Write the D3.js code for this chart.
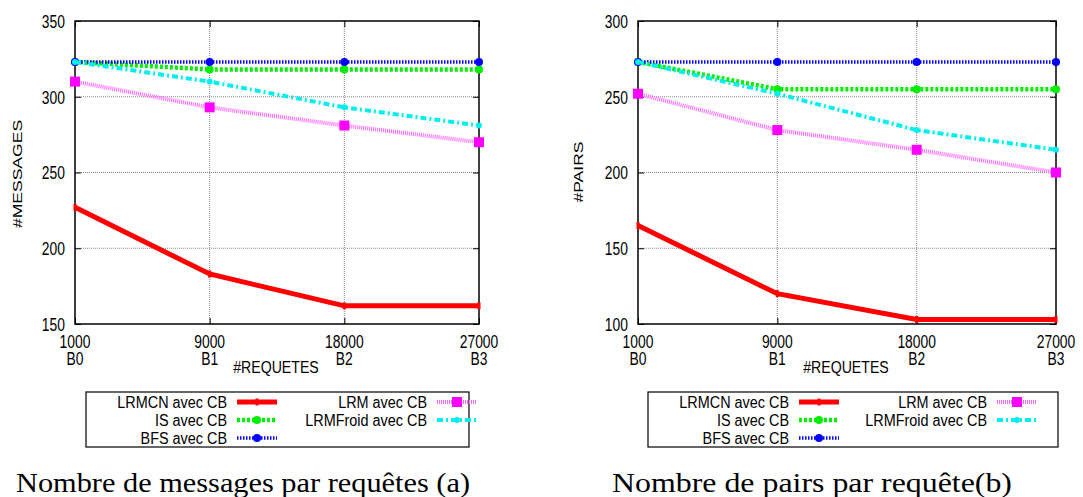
<!DOCTYPE html>
<html>
<head>
<meta charset="utf-8">
<script src="https://cdn.jsdelivr.net/npm/d3@7"></script>
<style>
  body { margin: 0; background: #fff; }
  svg { display: block; }
</style>
</head>
<body>
<div id="chart"></div>
<script>
// data
var requetes = [1000, 9000, 18000, 27000];
var batches = ["B0", "B1", "B2", "B3"];
var seriesNames = ["LRMCN avec CB", "IS avec CB", "BFS avec CB", "LRM avec CB", "LRMFroid avec CB"];

// (a) number of messages
var msgLRMCN = [227, 183, 162, 162];
var msgIS = [323, 318, 318, 318];
var msgBFS = [323, 323, 323, 323];
var msgLRM = [310, 293, 281, 270];
var msgLRMFroid = [323, 310, 293, 281];
var msgTicks = [150, 200, 250, 300, 350];

// (b) number of peers
var pairsLRMCN = [165, 120, 103, 103];
var pairsIS = [273, 255, 255, 255];
var pairsBFS = [273, 273, 273, 273];
var pairsLRM = [252, 228, 215, 200];
var pairsLRMFroid = [273, 252, 228, 215];
var pairsTicks = [100, 150, 200, 250, 300];

// line styles per series (same order as seriesNames)
var styles = [
  {stroke: "#ff0000", width: 5, dash: null, marker: "tick", mcolor: "#ff0000"},
  {stroke: "#00ee00", width: 4.5, dash: "3,2", marker: "circle", mcolor: "#00ee00"},
  {stroke: "#0000ff", width: 3.5, dash: "1.5,1.5", marker: "circle", mcolor: "#0000ff"},
  {stroke: "#ff66ff", width: 4, dash: "1,1", marker: "square", mcolor: "#ff00ff"},
  {stroke: "#00eeee", width: 4, dash: "6,3,2,3", marker: "dot", mcolor: "#00eeee"}
];

var sans = "Liberation Sans, Arial, sans-serif";

var svg = d3.select("#chart")
    .append("svg")
    .attr("width", 1083)
    .attr("height", 497);

// the original figure is stretched: squeeze/stretch text along its baseline
function squeeze(sel, f) {
    sel.each(function() {
        var L = this.getComputedTextLength();
        d3.select(this)
            .attr("textLength", L * f)
            .attr("lengthAdjust", "spacingAndGlyphs");
    });
}

function drawChart(opt) {
    var x = d3.scalePoint()
        .domain(requetes)
        .range([opt.left, opt.right]);

    var y = d3.scaleLinear()
        .domain([opt.ticks[0], opt.ticks[opt.ticks.length - 1]])
        .range([opt.bottom, opt.top]);

    var g = svg.append("g");

    // grid
    g.selectAll(".hgrid")
        .data(opt.ticks.slice(1, -1))
        .enter().append("line")
        .attr("x1", opt.left).attr("x2", opt.right)
        .attr("y1", function(d) { return y(d); })
        .attr("y2", function(d) { return y(d); })
        .attr("stroke", "#888")
        .attr("stroke-width", 1)
        .style("stroke-dasharray", "1,1");

    g.selectAll(".vgrid")
        .data(requetes.slice(1, -1))
        .enter().append("line")
        .attr("x1", function(d) { return x(d); })
        .attr("x2", function(d) { return x(d); })
        .attr("y1", opt.top).attr("y2", opt.bottom)
        .attr("stroke", "#888")
        .attr("stroke-width", 1)
        .style("stroke-dasharray", "1,1");

    // axes (ticks inward)
    var yAxis = d3.axisLeft(y).tickValues(opt.ticks).tickSize(-6).tickPadding(10);
    var yAxisR = d3.axisRight(y).tickValues(opt.ticks).tickSize(-6).tickFormat("");
    var xAxis = d3.axisBottom(x).tickSize(-6).tickFormat("");
    var xAxisT = d3.axisTop(x).tickSize(-6).tickFormat("");

    g.append("g")
        .attr("transform", "translate(" + opt.left + ",0)")
        .call(yAxis)
        .call(function(s) {
            s.select(".domain").remove();
            s.selectAll("text")
                .style("font-family", sans)
                .style("font-size", "18px")
                .attr("dy", "0.36em")
                .attr("fill", "#000")
                .call(squeeze, 0.77);
        });
    g.append("g")
        .attr("transform", "translate(" + opt.right + ",0)")
        .call(yAxisR)
        .call(function(s) { s.select(".domain").remove(); });
    g.append("g")
        .attr("transform", "translate(0," + opt.bottom + ")")
        .call(xAxis)
        .call(function(s) { s.select(".domain").remove(); });
    g.append("g")
        .attr("transform", "translate(0," + opt.top + ")")
        .call(xAxisT)
        .call(function(s) { s.select(".domain").remove(); });

    // x tick labels, two lines
    g.selectAll(".xlab")
        .data(requetes)
        .enter().append("text")
        .attr("x", function(d) { return x(d); })
        .attr("y", opt.bottom + 24)
        .attr("text-anchor", "middle")
        .style("font-family", sans)
        .style("font-size", "18px")
        .text(function(d) { return d; })
        .call(squeeze, 0.77);
    g.selectAll(".xlab2")
        .data(batches)
        .enter().append("text")
        .attr("x", function(d, i) { return x(requetes[i]); })
        .attr("y", opt.bottom + 41)
        .attr("text-anchor", "middle")
        .style("font-family", sans)
        .style("font-size", "18px")
        .text(function(d) { return d; })
        .call(squeeze, 0.77);

    // frame
    g.append("rect")
        .attr("x", opt.left).attr("y", opt.top)
        .attr("width", opt.right - opt.left)
        .attr("height", opt.bottom - opt.top)
        .attr("fill", "none")
        .attr("stroke", "#000")
        .attr("stroke-width", 1.5);

    // axis titles
    g.append("text")
        .attr("x", (opt.left + opt.right) / 2 - 1)
        .attr("y", opt.bottom + 49)
        .attr("text-anchor", "middle")
        .style("font-family", sans)
        .style("font-size", "17px")
        .text("#REQUETES")
        .call(squeeze, 0.83);

    g.append("text")
        .attr("transform", "translate(" + (opt.left - opt.ylabelDx) + "," + opt.ylabelY + ") rotate(-90)")
        .attr("text-anchor", "middle")
        .style("font-family", sans)
        .style("font-size", "13.5px")
        .text(opt.ylabel)
        .call(squeeze, 1.3);

    // series lines and markers
    opt.series.forEach(function(vals, si) {
        var st = styles[si];
        var pts = vals.map(function(v, i) { return {x: requetes[i], y: v}; });
        var line = d3.line()
            .x(function(d) { return x(d.x); })
            .y(function(d) { return y(d.y); });
        g.append("path")
            .datum(pts)
            .attr("fill", "none")
            .attr("stroke", st.stroke)
            .attr("stroke-width", st.width)
            .style("stroke-dasharray", st.dash)
            .attr("d", line);
        drawMarkers(g, pts.map(function(d) { return [x(d.x), y(d.y)]; }), st);
    });

    // legend
    var lg = svg.append("g");
    lg.append("rect")
        .attr("x", opt.legX).attr("y", 392)
        .attr("width", opt.legW).attr("height", 55)
        .attr("fill", "#fff")
        .attr("stroke", "#000")
        .attr("stroke-width", 1.2);

    seriesNames.forEach(function(name, si) {
        var col = si < 3 ? 0 : 1;
        var row = si < 3 ? si : si - 3;
        var tx = opt.legX + opt.legCols[col];
        var ty = 402 + row * 18;
        lg.append("text")
            .attr("x", tx).attr("y", ty + 5.5)
            .attr("text-anchor", "end")
            .style("font-family", sans)
            .style("font-size", "16px")
            .text(name)
            .call(squeeze, 0.9);
        var st = styles[si];
        lg.append("line")
            .attr("x1", tx + 10).attr("x2", tx + 50)
            .attr("y1", ty).attr("y2", ty)
            .attr("stroke", st.stroke)
            .attr("stroke-width", st.width)
            .style("stroke-dasharray", st.dash);
        drawMarkers(lg, [[tx + 30, ty]], st);
    });

    // caption
    svg.append("text")
        .attr("x", opt.capX).attr("y", 492)
        .attr("textLength", opt.capW)
        .attr("lengthAdjust", "spacingAndGlyphs")
        .style("font-family", "Liberation Serif, DejaVu Serif, serif")
        .style("font-size", "27px")
        .text(opt.caption);
}

function drawMarkers(g, pts, st) {
    pts.forEach(function(p) {
        if (st.marker === "square") {
            g.append("rect")
                .attr("x", p[0] - 5).attr("y", p[1] - 5)
                .attr("width", 10).attr("height", 10)
                .attr("fill", st.mcolor);
        } else if (st.marker === "circle") {
            g.append("circle")
                .attr("cx", p[0]).attr("cy", p[1]).attr("r", 4)
                .attr("fill", st.mcolor);
        } else if (st.marker === "dot") {
            g.append("circle")
                .attr("cx", p[0]).attr("cy", p[1]).attr("r", 3)
                .attr("fill", st.mcolor);
        } else {
            g.append("rect")
                .attr("x", p[0] - 1.5).attr("y", p[1] - 3.5)
                .attr("width", 3).attr("height", 7)
                .attr("fill", st.mcolor);
        }
    });
}

drawChart({
    left: 75, right: 479, top: 21, bottom: 324,
    ticks: msgTicks,
    series: [msgLRMCN, msgIS, msgBFS, msgLRM, msgLRMFroid],
    ylabel: "#MESSAGES", ylabelY: 174, ylabelDx: 53,
    legX: 86, legW: 383, legCols: [141, 341],
    caption: "Nombre de messages par requêtes (a)", capX: 16, capW: 454
});

drawChart({
    left: 638, right: 1056, top: 21, bottom: 324,
    ticks: pairsTicks,
    series: [pairsLRMCN, pairsIS, pairsBFS, pairsLRM, pairsLRMFroid],
    ylabel: "#PAIRS", ylabelY: 172, ylabelDx: 55,
    legX: 648, legW: 410, legCols: [141, 339],
    caption: "Nombre de pairs par requête(b)", capX: 612, capW: 400
});
</script>
</body>
</html>
